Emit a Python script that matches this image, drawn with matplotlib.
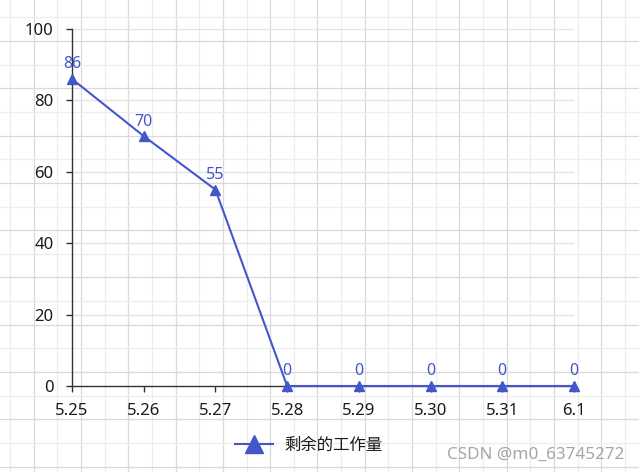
import matplotlib
matplotlib.use("Agg")
import matplotlib.pyplot as plt
from matplotlib.lines import Line2D
import numpy as np

plt.rcParams['font.family'] = ['Noto Sans', 'Noto Sans CJK SC', 'DejaVu Sans']

categories = ['5.25', '5.26', '5.27', '5.28', '5.29', '5.30', '5.31', '6.1']
remaining = [86, 70, 55, 0, 0, 0, 0, 0]
series_name = '剩余的工作量'
y_ticks = [0, 20, 40, 60, 80, 100]

W, H = 639, 472
color = '#4456cc'
fig = plt.figure(figsize=(W / 100, H / 100), dpi=100)
fig.patch.set_facecolor('white')

# page background grid (graph paper)
bg = fig.add_axes([0, 0, 1, 1], zorder=0)
bg.set_xlim(0, W)
bg.set_ylim(H, 0)
bg.axis('off')
step = 23.65
for k, xv in enumerate(np.arange(10, W, step)):
    bg.axvline(xv, color='#d9d9d9' if k % 2 else '#ededed', lw=0.9)
for k, yv in enumerate(np.arange(17.3, H, step)):
    bg.axhline(yv, color='#d9d9d9' if k % 2 else '#ededed', lw=0.9)

left, right, top, bottom = 72, 574, 29, 386
ax = fig.add_axes([left / W, 1 - bottom / H, (right - left) / W, (bottom - top) / H], zorder=1)
ax.set_facecolor('none')
x = np.arange(len(categories))
ax.set_xlim(0, len(categories) - 1)
ax.set_ylim(0, 100)
ax.set_yticks(y_ticks)
ax.set_xticks(x)
ax.set_xticklabels(categories)
for yv in y_ticks[1:]:
    ax.axhline(yv, color='#e3e3e3', lw=1, zorder=0)

for s in ['top', 'right']:
    ax.spines[s].set_visible(False)
for s in ['left', 'bottom']:
    ax.spines[s].set_color('#333333')
    ax.spines[s].set_linewidth(1)
ax.tick_params(axis='y', length=4.3, width=1, color='#333333', pad=9, labelsize=12, labelcolor='#1a1a1a')
ax.tick_params(axis='x', length=4.3, width=1, color='#333333', pad=8, labelsize=12, labelcolor='#1a1a1a')

ax.plot(x, remaining, color=color, lw=1.5, marker='^', markersize=6.5, clip_on=False, zorder=3)
for xi, v in zip(x, remaining):
    ax.annotate(str(v), (xi, v), xytext=(0, 10.5), textcoords='offset points',
                ha='center', va='center', color=color, fontsize=11.5, zorder=4)

handle = Line2D([], [], color=color, lw=1.5, marker='^', markersize=13)
fig.legend([handle], [series_name], loc='center left', bbox_to_anchor=(227 / W, 1 - 445 / H),
           frameon=False, borderpad=0, handlelength=2.3, handletextpad=0.7,
           labelcolor='#1a1a1a', prop={'family': ['Noto Sans CJK SC', 'DejaVu Sans'], 'size': 11.8})

fig.text(624 / W, 1 - 455 / H, 'CSDN @m0_63745272', ha='right', va='center',
         color='#a6a6a6', fontsize=12.3)

fig.savefig('out.png', dpi=100)
